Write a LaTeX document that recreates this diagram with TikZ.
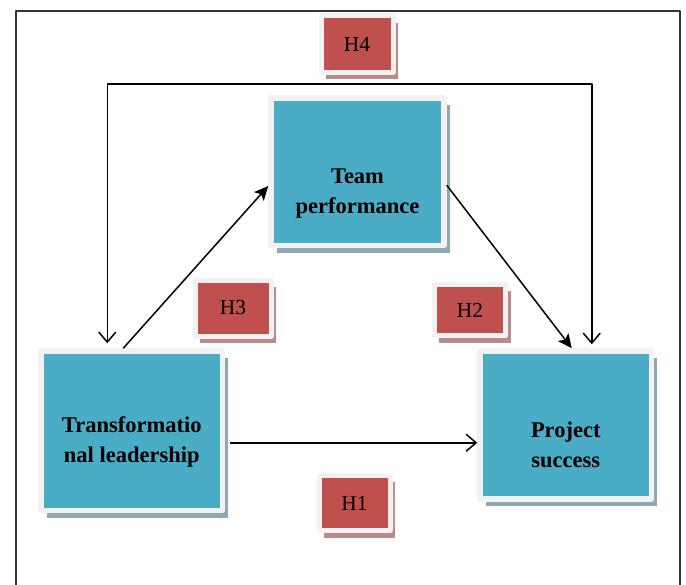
\documentclass[tikz,border=0pt]{standalone}
\usepackage{fontspec}
\setmainfont{Liberation Serif}
\usetikzlibrary{arrows.meta,shadows}
\definecolor{factorblue}{HTML}{4BACC6}
\definecolor{hypred}{HTML}{C0504D}
\definecolor{bandgray}{HTML}{F2F2F2}
\definecolor{blueshade}{HTML}{8EA9B3}
\definecolor{redshade}{HTML}{B88C8B}
\definecolor{framegray}{HTML}{333333}

\begin{document}
\begin{tikzpicture}[line join=round,
    factor/.style={rectangle, fill=factorblue, draw=bandgray, line width=0.11cm,
        drop shadow={shadow xshift=0.115cm, shadow yshift=-0.145cm, fill=blueshade, opacity=1}},
    factortext/.style={font=\fontsize{12.8}{17}\selectfont\bfseries, align=center},
    hyp/.style={rectangle, fill=hypred, draw=bandgray, line width=0.1cm, inner sep=0pt,
        drop shadow={shadow xshift=0.1cm, shadow yshift=-0.14cm, fill=redshade, opacity=1},
        font=\fontsize{12.2}{14}\selectfont},
    link/.style={line width=0.03cm, -{Stealth[length=0.28cm, width=0.26cm, inset=0.06cm]}},
    openlink/.style={line width=0.03cm, {Straight Barb[length=0.2cm, width=0.34cm]}-{Straight Barb[length=0.2cm, width=0.34cm]}}]
    \useasboundingbox (0,0) rectangle (13.72,11.68);
    % outer frame
    \draw[framegray, line width=0.03cm] (0.32,-0.2) |- (13.6,11.46) -- (13.6,-0.2);
    % the three factors
    \node[factor, minimum width=3.46cm, minimum height=2.95cm,
        label={[factortext, yshift=-0.43cm]center:Team\\performance}] (tp) at (7.15,8.245) {};
    \node[factor, minimum width=3.63cm, minimum height=3.19cm,
        label={[factortext, yshift=-0.22cm]center:Transformatio\\nal leadership}] (tl) at (2.635,3.065) {};
    \node[factor, minimum width=3.43cm, minimum height=2.96cm,
        label={[factortext, yshift=-0.39cm]center:Project\\success}] (ps) at (11.315,3.18) {};
    % hypotheses
    \node[hyp, minimum width=1.44cm, minimum height=1.13cm] (h4) at (7.14,10.8) {H4};
    \node[hyp, minimum width=1.52cm, minimum height=1.12cm] (h3) at (4.66,5.52) {H3};
    \node[hyp, minimum width=1.43cm, minimum height=1.03cm] (h2) at (9.40,5.48) {H2};
    \node[hyp, minimum width=1.42cm, minimum height=1.11cm] (h1) at (7.09,1.62) {H1};
    % paths
    \coordinate (h4bar) at (7,10.0);
    \draw[link] ([xshift=-0.17cm]tl.north) -- ([yshift=-0.285cm]tp.west);
    \draw[link] ([yshift=-0.27cm]tp.east) -- ([xshift=0.12cm]ps.north);
    \draw[line width=0.03cm, -{Straight Barb[length=0.2cm, width=0.34cm]}, shorten <=0.1cm]
        ([yshift=-0.24cm]tl.east) -- ([yshift=-0.24cm]tl.east -| ps.west);
    \draw[openlink, shorten <=0.1cm, shorten >=0.08cm]
        ([xshift=-0.49cm]tl.north) |- (h4bar) -| ([xshift=0.52cm]ps.north);
\end{tikzpicture}
\end{document}
